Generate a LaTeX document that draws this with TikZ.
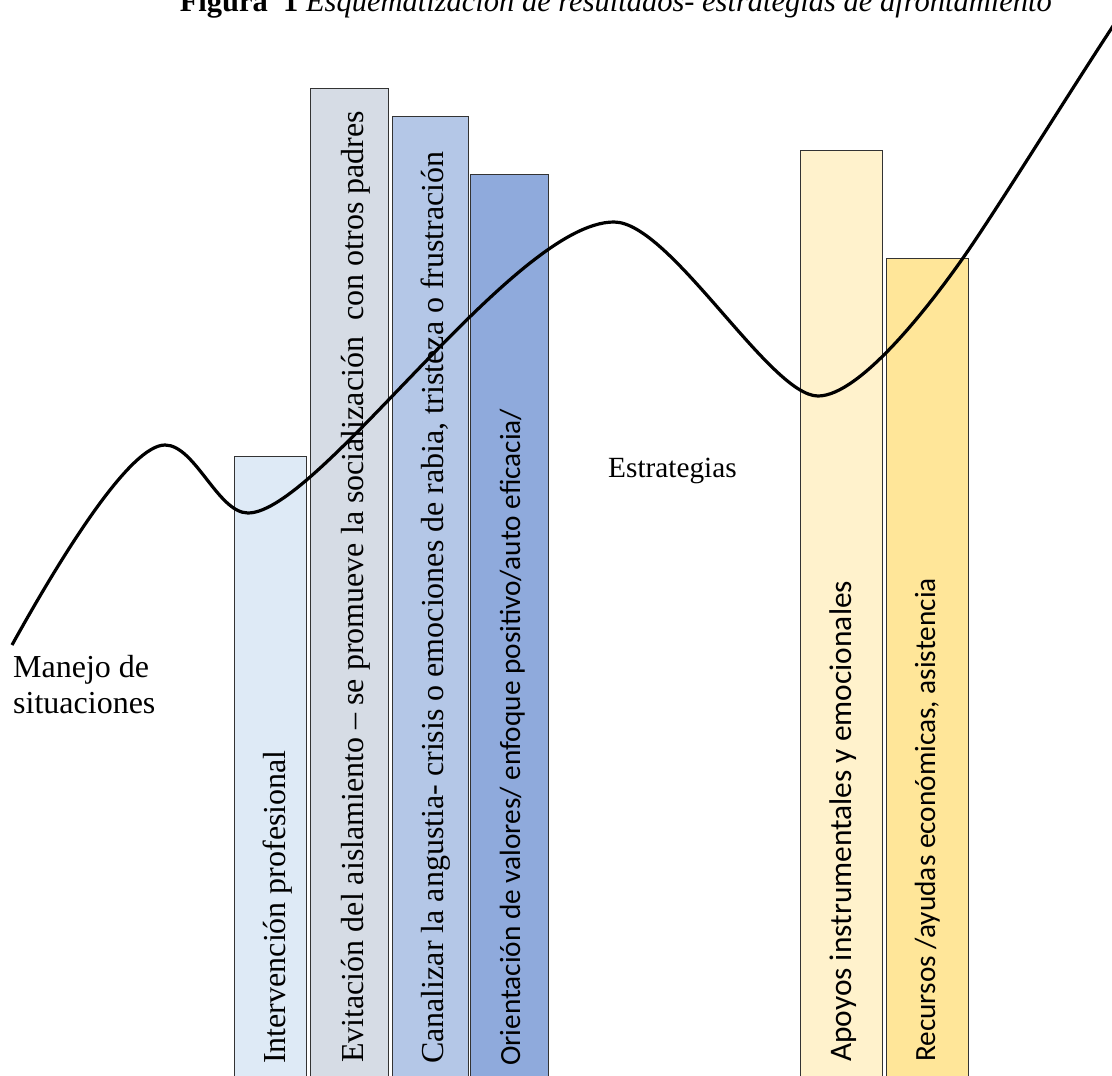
\documentclass[tikz,border=0pt]{standalone}
\usepackage{fontspec}
\setmainfont{Liberation Serif}
\newfontfamily\calibri{Carlito}
\definecolor{cA}{HTML}{DEEAF6}
\definecolor{cB}{HTML}{D6DCE5}
\definecolor{cC}{HTML}{B4C7E7}
\definecolor{cD}{HTML}{8FAADC}
\definecolor{cE}{HTML}{FFF2CC}
\definecolor{cF}{HTML}{FFE699}
\tikzset{
  barbox/.style={draw=black!80, line width=0.9pt, rectangle, inner sep=0pt, anchor=north west},
  vserif/.style={rotate=90, anchor=base west, inner sep=0pt, font=\fontsize{32}{38}\selectfont},
  vsans/.style={rotate=90, anchor=base west, inner sep=0pt, font=\calibri\fontsize{29.3}{35}\selectfont},
  plain/.style={anchor=base west, inner sep=0pt},
  curveline/.style={line width=3.2pt, black}
}
\begin{document}
\begin{tikzpicture}[x=1pt,y=-1pt]
\useasboundingbox (0,0) rectangle (1112,1076);
% title (cut off at top, as in the reference)
\node[anchor=base east, inner sep=0pt, font=\fontsize{30.5}{36}\selectfont] (title) at (1052,11)
  {\textbf{Figura\ \ 1} \textit{Esquematización de resultados- estrategias de afrontamiento}};
% bars
\node[barbox, fill=cA, minimum width=72pt, minimum height=634pt] (b1) at (234,456) {};
\node[barbox, fill=cB, minimum width=78pt, minimum height=1002pt] (b2) at (310,88) {};
\node[barbox, fill=cC, minimum width=76pt, minimum height=974pt] (b3) at (392,116) {};
\node[barbox, fill=cD, minimum width=78pt, minimum height=916pt] (b4) at (470,174) {};
\node[barbox, fill=cE, minimum width=82pt, minimum height=940pt] (b5) at (800,150) {};
\node[barbox, fill=cF, minimum width=82pt, minimum height=832pt] (b6) at (886,258) {};
% bar texts
\node[vserif] (t1) at (285,1064) {Intervención profesional};
\node[vserif] (t2) at (363,1063) {Evitación del aislamiento – se promueve la socialización\ \ con otros padres};
\node[vserif] (t3) at (443,1064) {Canalizar la angustia- crisis o emociones de rabia, tristeza o frustración};
\node[vsans] (t4) at (520,1066) {Orientación de valores/ enfoque positivo/auto eficacia/};
\node[vsans, font=\calibri\fontsize{31.4}{37}\selectfont] (t5) at (851,1062) {Apoyos instrumentales y emocionales};
\node[vsans] (t6) at (935,1062) {Recursos /ayudas económicas, asistencia};
% free labels
\node[plain, font=\fontsize{32}{38}\selectfont] (manejo) at (13,677) {Manejo de};
\node[plain, font=\fontsize{32}{38}\selectfont] (situ) at (13,713) {situaciones};
\node[plain, font=\fontsize{29.3}{35}\selectfont] (estr) at (608,477) {Estrategias};
% curve
\draw[curveline] (12,645) .. controls (62,555) and (130,445) .. (165,445)
  .. controls (195,445) and (218,513) .. (248,513)
  .. controls (318,513) and (514,222) .. (614,222)
  .. controls (670,222) and (770,396) .. (818,396)
  .. controls (860,396) and (930,305) .. (963,258)
  .. controls (1000,205) and (1080,75) .. (1125,8);
\end{tikzpicture}
\end{document}
